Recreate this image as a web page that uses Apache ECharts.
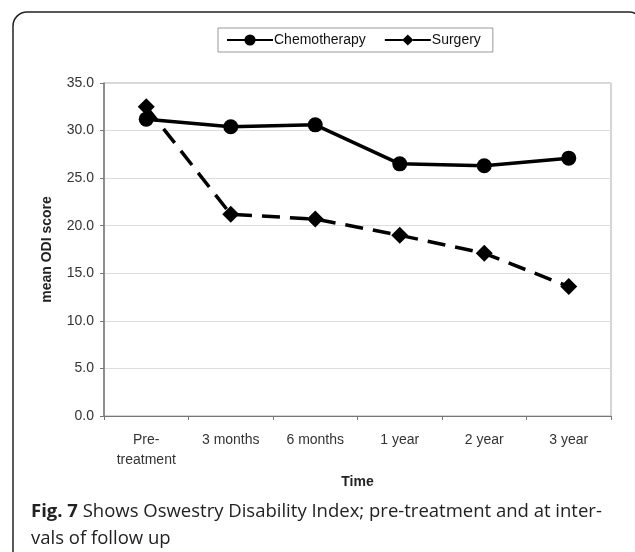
<!DOCTYPE html>
<html>
<head>
<meta charset="utf-8">
<script src="https://cdn.jsdelivr.net/npm/echarts@6/dist/echarts.min.js"></script>
<style>
  html, body { margin: 0; padding: 0; background: #fff; }
  #main { width: 635px; height: 552px; }
</style>
</head>
<body>
<div id="main"></div>
<script>
// 随访时间点
var timePoints = ['Pre-\ntreatment', '3 months', '6 months', '1 year', '2 year', '3 year'];
// mean ODI score
var chemoScores = [31.2, 30.4, 30.6, 26.5, 26.3, 27.1];
var surgeryScores = [32.5, 21.2, 20.7, 19.0, 17.1, 13.6];
var yTicks = [0, 5, 10, 15, 20, 25, 30, 35];

function drawOdiChart(id) {
    var odiChart = echarts.init(document.getElementById(id));
    var option = {
        animation: false,
        textStyle: { fontFamily: 'Liberation Sans, Arial, sans-serif' },
        graphic: [
            {
                type: 'rect',
                shape: { x: 13, y: 12, width: 630, height: 570, r: 14 },
                style: { fill: 'none', stroke: '#222', lineWidth: 1.5 },
                silent: true
            },
            {
                type: 'text',
                left: 31,
                top: 498,
                style: {
                    text: '{b|Fig. 7} Shows Oswestry Disability Index; pre-treatment and at inter-\nvals of follow up',
                    font: '18.5px "Open Sans", sans-serif',
                    fill: '#222',
                    lineHeight: 27,
                    rich: {
                        b: { font: 'bold 18.5px "Open Sans", sans-serif', fill: '#222' }
                    }
                }
            }
        ],
        legend: {
            data: ['Chemotherapy', 'Surgery'],
            left: 218,
            top: 28,
            padding: [5, 12, 5, 8],
            itemGap: 18,
            itemWidth: 46,
            itemHeight: 14,
            borderColor: '#999',
            borderWidth: 1,
            textStyle: { color: '#111', fontSize: 14, padding: [0, 0, 0, -4] }
        },
        grid: {
            left: 104,
            right: 24,
            top: 83,
            bottom: 136,
            show: true,
            borderColor: '#aaa',
            borderWidth: 1
        },
        xAxis: {
            type: 'category',
            data: timePoints,
            name: 'Time',
            nameLocation: 'middle',
            nameGap: 58,
            nameTextStyle: { color: '#222', fontWeight: 'bold', fontSize: 14 },
            axisLine: { lineStyle: { color: '#777', width: 1 } },
            axisTick: { show: true, length: 4, lineStyle: { color: '#777' } },
            axisLabel: { color: '#333', fontSize: 14, margin: 14, lineHeight: 20 },
            splitLine: { show: false }
        },
        yAxis: {
            type: 'value',
            min: yTicks[0],
            max: yTicks[yTicks.length - 1],
            interval: 5,
            name: 'mean ODI score',
            nameLocation: 'middle',
            nameGap: 50,
            nameTextStyle: { color: '#222', fontWeight: 'bold', fontSize: 14 },
            axisLine: { show: true, lineStyle: { color: '#777', width: 1.5 } },
            axisTick: { show: true, length: 4, lineStyle: { color: '#777' } },
            axisLabel: {
                color: '#333',
                fontSize: 14,
                margin: 10,
                formatter: function (v) { return v.toFixed(1); }
            },
            splitLine: { show: true, lineStyle: { color: '#dcdcdc', width: 1 } }
        },
        series: [
            {
                name: 'Chemotherapy',
                type: 'line',
                data: chemoScores,
                symbol: 'circle',
                symbolSize: 15,
                itemStyle: { color: '#000' },
                lineStyle: { color: '#000', width: 3.5 }
            },
            {
                name: 'Surgery',
                type: 'line',
                data: surgeryScores,
                symbol: 'diamond',
                symbolSize: 17,
                itemStyle: { color: '#000' },
                lineStyle: { color: '#000', width: 3.5, type: [18, 10] }
            }
        ]
    };
    odiChart.setOption(option);
    return odiChart;
}

drawOdiChart('main');
</script>
</body>
</html>
